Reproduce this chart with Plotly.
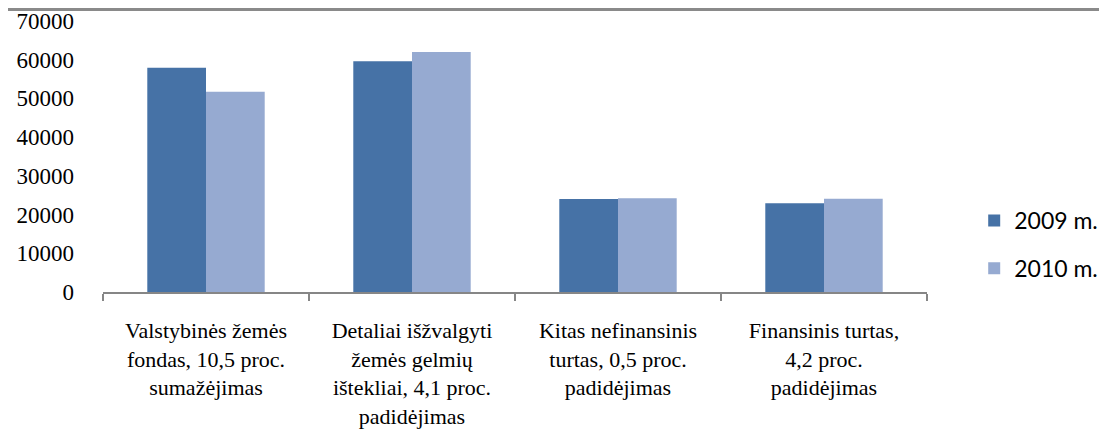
import plotly.graph_objects as go

categories = [
    "Valstybinės žemės<br>fondas, 10,5 proc.<br>sumažėjimas",
    "Detaliai išžvalgyti<br>žemės gelmių<br>ištekliai, 4,1 proc.<br>padidėjimas",
    "Kitas nefinansinis<br>turtas, 0,5 proc.<br>padidėjimas",
    "Finansinis turtas,<br>4,2 proc.<br>padidėjimas",
]
series_names = ["2009 m.", "2010 m."]
values_2009 = [57900, 59600, 24000, 22900]
values_2010 = [51700, 62000, 24200, 24100]
y_ticks = [0, 10000, 20000, 30000, 40000, 50000, 60000, 70000]

colors = ["#4672A6", "#96AAD1"]

fig = go.Figure()
for i, (name, vals) in enumerate(zip(series_names, [values_2009, values_2010])):
    fig.add_trace(go.Bar(
        x=categories, y=vals, name=name,
        marker=dict(color=colors[i], line=dict(width=0)),
        legendgroup=name,
    ))

# page body has an 8px default margin, so the figure is sized to fit
W, H = 1099, 432
ml, mr, mt, mb = 95, 180, 13, 148
pw = W - ml - mr
ph = H - mt - mb

fig.update_layout(
    width=W, height=H,
    margin=dict(l=ml, r=mr, t=mt, b=mb, pad=0, autoexpand=False),
    paper_bgcolor="white", plot_bgcolor="white",
    barmode="group", bargap=0.43, bargroupgap=0,
    font=dict(family="Liberation Serif", color="black"),
    showlegend=True,
    legend=dict(
        x=1.05 + 6 / pw, y=(71 + 22) / ph, xanchor="left", yanchor="top",
        font=dict(family="Lato", size=23, color="black"),
        tracegroupgap=15, itemwidth=30,
        bgcolor="rgba(0,0,0,0)",
    ),
    xaxis=dict(
        automargin=False,
        showline=True, linecolor="#868686", linewidth=1.5,
        ticks="outside", tickson="boundaries", ticklen=7, tickcolor="#868686", tickwidth=1.5,
        tickfont=dict(family="Liberation Serif", size=22, color="black"),
        showgrid=False, zeroline=False,
        ticklabelstandoff=18,
    ),
    yaxis=dict(
        automargin=False,
        range=[0, 70000], tickvals=y_ticks, ticktext=[str(v) for v in y_ticks],
        showgrid=False, zeroline=False, showline=False, ticks="",
        tickfont=dict(family="Liberation Serif", size=23, color="black"),
        ticklabelstandoff=28, ticklabeloverflow="allow",
    ),
    shapes=[dict(type="rect", xref="paper", yref="paper",
                 x0=-ml / pw, x1=(W - ml) / pw,
                 y0=1 + (mt - 3) / ph, y1=1 + mt / ph,
                 fillcolor="#8A8A8A", line=dict(width=0), layer="above")],
)

fig.write_html("out.html")
